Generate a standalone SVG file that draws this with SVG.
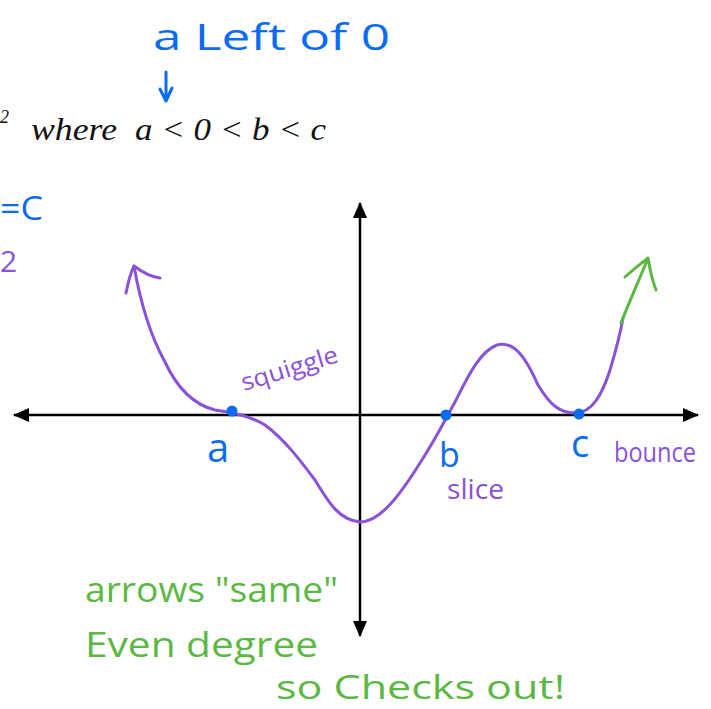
<svg xmlns="http://www.w3.org/2000/svg" width="711" height="709" viewBox="0 0 711 709">
<style>
.ax{stroke:#000;stroke-width:2.5;fill:none}
.cv{stroke:#8a52d6;stroke-width:3;fill:none;stroke-linecap:round;stroke-linejoin:round}
.gr{stroke:#5cb845;stroke-width:3;fill:none;stroke-linecap:round;stroke-linejoin:round}
.bl{stroke:#0b6cf2;stroke-width:3;fill:none;stroke-linecap:round;stroke-linejoin:round}
.hb{fill:#0b6cf2;font-family:"Open Sans","Liberation Sans",sans-serif}
.hp{fill:#8a52d6;font-family:"Open Sans","Liberation Sans",sans-serif}
.hg{fill:#5cb845;font-family:"Open Sans","Liberation Sans",sans-serif}
.mt{fill:#111;font-family:"Liberation Serif","DejaVu Serif",serif;font-style:italic}
.dot{fill:#0b6cf2}
</style>
<defs>
<marker id="ah" viewBox="0 0 16 14" refX="15" refY="7" markerWidth="16" markerHeight="14" markerUnits="userSpaceOnUse" orient="auto">
<path d="M0,0 L16,7 L0,14 Z" fill="#000"/>
</marker>
</defs>
<rect width="711" height="709" fill="#fff"/>

<g id="top-note">
<text class="hb" x="153" y="50" font-size="36" textLength="237" lengthAdjust="spacingAndGlyphs">a Left of 0</text>
<path class="bl" d="M166,72 L166,101 M160,89 L166,101 L172,88"/>
</g>

<g id="equation">
<text class="mt" x="0" y="123" font-size="18" font-style="normal">2</text>
<text class="mt" x="31" y="140" font-size="31" textLength="86" lengthAdjust="spacingAndGlyphs">where</text>
<text class="mt" x="135" y="140" font-size="31" textLength="191" lengthAdjust="spacingAndGlyphs">a &lt; 0 &lt; b &lt; c</text>
</g>

<g id="left-notes">
<text class="hb" x="0" y="220" font-size="32" textLength="43" lengthAdjust="spacingAndGlyphs">=C</text>
<text class="hp" x="0" y="272" font-size="30">2</text>
</g>

<g id="connectors">
<line class="ax" x1="360" y1="415" x2="14" y2="415" marker-end="url(#ah)"/>
<line class="ax" x1="360" y1="415" x2="698" y2="415" marker-end="url(#ah)"/>
<line class="ax" x1="360" y1="415" x2="360" y2="203" marker-end="url(#ah)"/>
<line class="ax" x1="360" y1="415" x2="360" y2="636" marker-end="url(#ah)"/>
</g>

<g id="curve">
<path class="cv" d="M134,266 C140,300 150,335 165,362 C178,390 195,405 215,410 C235,413 250,416 265,425 C285,440 300,460 315,480 C330,505 340,520 360,522 C380,522 400,495 420,463 C435,440 445,420 455,402 C465,383 478,352 497,345 C515,340 527,360 538,385 C550,405 560,413 575,413 C592,413 602,395 610,370 C616,350 620,335 623,318"/>
<path class="cv" d="M126,293 C128,283 131,272 134,266 C142,272 150,277 160,278"/>
<path class="gr" d="M621,323 C630,300 640,278 648,258 M625,277 C635,268 643,262 648,258 C650,270 652,280 656,290"/>
</g>

<g id="point-a">
<circle class="dot" cx="232" cy="411" r="5.5"/>
<text class="hb" x="207" y="462" font-size="40">a</text>
<text class="hp" x="0" y="0" font-size="24" transform="translate(244,391) rotate(-17)" textLength="100" lengthAdjust="spacingAndGlyphs">squiggle</text>
</g>

<g id="point-b">
<circle class="dot" cx="446" cy="415" r="5.5"/>
<text class="hb" x="439" y="467" font-size="34">b</text>
<text class="hp" x="447" y="499" font-size="27" textLength="57" lengthAdjust="spacingAndGlyphs">slice</text>
</g>

<g id="point-c">
<circle class="dot" cx="579" cy="414" r="5.5"/>
<text class="hb" x="571" y="457" font-size="38">c</text>
<text class="hp" x="614" y="462" font-size="27" textLength="82" lengthAdjust="spacingAndGlyphs">bounce</text>
</g>

<g id="conclusion">
<text class="hg" x="85" y="602" font-size="34" textLength="253" lengthAdjust="spacingAndGlyphs">arrows "same"</text>
<text class="hg" x="85" y="657" font-size="34" textLength="233" lengthAdjust="spacingAndGlyphs">Even degree</text>
<text class="hg" x="276" y="699" font-size="33" textLength="289" lengthAdjust="spacingAndGlyphs">so Checks out!</text>
</g>
</svg>
